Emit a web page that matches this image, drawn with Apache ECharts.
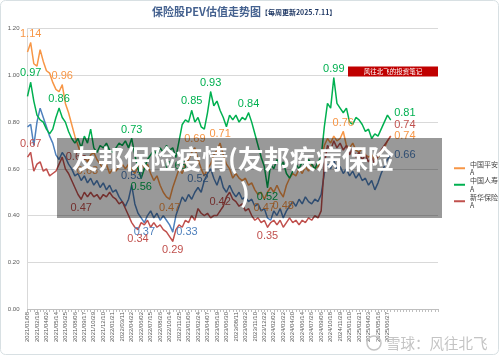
<!DOCTYPE html>
<html><head><meta charset="utf-8">
<script src="https://cdn.jsdelivr.net/npm/echarts@6.0.0/dist/echarts.min.js"></script>
<style>html,body{margin:0;padding:0;background:#fff}#c{width:500px;height:357px}</style>
</head><body><div id="c"></div>
<script>
const dates = [
'2021/01/08','2021/01/22','2021/02/05','2021/02/19','2021/03/05','2021/03/19','2021/04/02','2021/04/16','2021/04/30',
'2021/05/14','2021/05/28','2021/06/11','2021/06/25','2021/07/09','2021/07/23','2021/08/06','2021/08/20','2021/09/03',
'2021/09/17','2021/09/30','2021/10/15','2021/10/29','2021/11/12','2021/11/26','2021/12/10','2021/12/24','2022/01/07',
'2022/01/21','2022/02/11','2022/02/25','2022/03/11','2022/03/25','2022/04/08','2022/04/22','2022/05/06','2022/05/20',
'2022/06/02','2022/06/17','2022/07/01','2022/07/15','2022/07/29','2022/08/12','2022/08/26','2022/09/09','2022/09/23',
'2022/10/14','2022/10/28','2022/11/11','2022/11/25','2022/12/09','2022/12/23','2023/01/06','2023/01/20','2023/02/10',
'2023/02/24','2023/03/10','2023/03/24','2023/04/07','2023/04/21','2023/05/05','2023/05/19','2023/06/02','2023/06/16',
'2023/06/30','2023/07/14','2023/07/28','2023/08/11','2023/08/25','2023/09/08','2023/09/22','2023/10/13','2023/10/27',
'2023/11/10','2023/11/24','2023/12/08','2023/12/22','2024/01/05','2024/01/19','2024/02/02','2024/02/23','2024/03/08',
'2024/03/22','2024/04/03','2024/04/19','2024/04/30','2024/05/17','2024/05/31','2024/06/14','2024/06/28','2024/07/12',
'2024/07/26','2024/08/09','2024/08/23','2024/09/06','2024/09/20','2024/09/30','2024/10/18','2024/11/01','2024/11/15',
'2024/11/29','2024/12/13','2024/12/27','2025/01/10','2025/01/24','2025/02/14','2025/02/21','2025/03/07','2025/03/21',
'2025/04/03','2025/04/18','2025/04/30','2025/05/16','2025/05/30','2025/06/13','2025/06/27','2025/07/11',
'','','','','','','','','','','','','','',''
];

// 中国平安A (orange)
const pingan = [
1.10,1.14,1.05,1.04,1.11,1.06,1.02,1.01,0.97,0.94,
0.93,0.96,0.88,0.84,0.79,0.74,0.70,0.66,0.65,0.63,
0.66,0.67,0.64,0.62,0.60,0.62,0.58,0.60,0.59,0.61,
0.62,0.60,0.62,0.60,0.58,0.61,0.63,0.60,0.62,0.58,
0.55,0.57,0.53,0.50,0.48,0.47,0.52,0.56,0.60,0.58,
0.62,0.64,0.67,0.69,0.64,0.60,0.57,0.60,0.62,0.66,
0.68,0.71,0.66,0.62,0.60,0.56,0.58,0.56,0.55,0.56,
0.53,0.54,0.51,0.49,0.50,0.47,0.50,0.52,0.50,0.53,
0.50,0.48,0.53,0.56,0.58,0.57,0.60,0.58,0.61,0.59,
0.62,0.60,0.61,0.63,0.70,0.73,0.71,0.74,0.72,0.73,
0.76,0.70,0.69,0.71,0.68,0.67,0.69,0.66,0.65,0.66,
0.64,0.65,0.67,0.69,0.72,0.74
];
// 中国人寿A (green)
const renshou = [
0.91,0.97,0.89,0.83,0.81,0.80,0.77,0.75,0.77,0.82,
0.86,0.82,0.80,0.76,0.73,0.71,0.73,0.69,0.74,0.71,
0.77,0.69,0.67,0.70,0.69,0.71,0.68,0.67,0.69,0.71,
0.70,0.72,0.69,0.73,0.66,0.60,0.56,0.60,0.64,0.66,
0.68,0.66,0.69,0.67,0.70,0.68,0.69,0.65,0.72,0.79,
0.81,0.80,0.85,0.80,0.82,0.78,0.77,0.84,0.93,0.87,
0.89,0.85,0.82,0.78,0.83,0.81,0.83,0.80,0.82,0.81,
0.84,0.80,0.75,0.70,0.65,0.61,0.52,0.62,0.60,0.64,
0.61,0.63,0.58,0.56,0.59,0.62,0.60,0.63,0.61,0.64,
0.62,0.60,0.63,0.65,0.78,0.88,0.86,0.99,0.88,0.86,
0.84,0.86,0.80,0.79,0.82,0.81,0.79,0.76,0.77,0.73,
0.75,0.74,0.77,0.80,0.83,0.81
];
// 中国太保A (blue)
const taibao = [
0.78,0.79,0.70,0.80,0.86,0.82,0.78,0.74,0.71,0.66,
0.64,0.67,0.65,0.62,0.60,0.57,0.58,0.55,0.57,0.54,
0.56,0.53,0.55,0.52,0.54,0.51,0.53,0.50,0.51,0.48,
0.46,0.44,0.47,0.53,0.45,0.41,0.39,0.37,0.40,0.42,
0.39,0.41,0.38,0.40,0.38,0.36,0.33,0.40,0.44,0.48,
0.46,0.49,0.47,0.50,0.52,0.50,0.55,0.58,0.60,0.56,
0.53,0.57,0.52,0.50,0.53,0.50,0.48,0.50,0.47,0.48,
0.46,0.47,0.44,0.45,0.42,0.43,0.39,0.38,0.42,0.40,
0.43,0.39,0.42,0.44,0.46,0.44,0.47,0.45,0.48,0.46,
0.45,0.47,0.46,0.49,0.58,0.62,0.60,0.64,0.59,0.61,
0.58,0.60,0.57,0.59,0.56,0.58,0.55,0.56,0.53,0.55,
0.51,0.54,0.58,0.61,0.64,0.66
];
// 新华保险A (red)
const xinhua = [
0.65,0.67,0.59,0.62,0.63,0.59,0.60,0.57,0.58,0.59,
0.62,0.65,0.60,0.58,0.55,0.52,0.49,0.47,0.50,0.48,
0.50,0.48,0.49,0.47,0.49,0.48,0.50,0.48,0.47,0.45,
0.46,0.43,0.40,0.37,0.35,0.34,0.37,0.36,0.38,0.35,
0.37,0.35,0.36,0.34,0.33,0.31,0.29,0.34,0.36,0.35,
0.38,0.37,0.40,0.38,0.43,0.41,0.40,0.41,0.39,0.40,
0.40,0.42,0.44,0.48,0.50,0.47,0.46,0.44,0.45,0.42,
0.43,0.40,0.38,0.39,0.37,0.38,0.35,0.37,0.38,0.36,
0.38,0.35,0.37,0.39,0.37,0.38,0.36,0.38,0.37,0.39,
0.38,0.40,0.39,0.42,0.62,0.70,0.68,0.72,0.69,0.71,
0.68,0.70,0.66,0.69,0.65,0.67,0.64,0.66,0.63,0.65,
0.62,0.66,0.68,0.70,0.72,0.74
];

// labelled points: [index, placement, vertical offset]
const pinganMarks = [[1,'top'],[11,'top'],[19,'bottom'],[45,'bottom'],[53,'top'],[61,'top'],[75,'bottom'],[81,'bottom'],[100,'top'],[115,'right']];
const renshouMarks = [[1,'top'],[10,'top'],[33,'top'],[36,'bottom'],[47,'bottom'],[52,'top'],[58,'top'],[70,'top'],[76,'bottom'],[97,'top'],[115,'right',-7]];
const taibaoMarks = [[33,'top'],[37,'bottom'],[46,'right'],[54,'top'],[115,'right']];
const xinhuaMarks = [[1,'top'],[11,'right'],[17,'bottom'],[35,'bottom'],[46,'bottom'],[61,'top'],[76,'bottom'],[115,'right',-11]];

const legendNames = ['中国平安A','中国人寿A','新华保险A'];

function build(values, marks) {
  const m = {};
  marks.forEach(function (k) { m[k[0]] = [k[1], k[2] || 0]; });
  return values.map(function (v, i) {
    if (!m[i]) return v;
    return {value: v, symbol: 'circle', symbolSize: 1,
      label: {show: true, position: m[i][0], offset: [0, m[i][1]]}};
  });
}
function mkSeries(name, values, marks, color) {
  return {
    name: name, type: 'line', data: build(values, marks),
    symbol: 'none', showSymbol: true, showAllSymbol: true,
    lineStyle: {width: 1.5, color: color}, itemStyle: {color: color},
    label: {show: false, color: color, fontSize: 11, fontFamily: 'Liberation Sans', distance: 3,
      formatter: function (p) { return Number(p.value).toFixed(2); }},
    emphasis: {disabled: true}, animation: false
  };
}

const chart = echarts.init(document.getElementById('c'), null, {renderer: 'canvas'});
chart.setOption({
  backgroundColor: '#ffffff',
  animation: false,
  title: {
    text: '{a|保险股PEV估值走势图}{b|【每周更新2025.7.11】}',
    left: 152, top: 6, padding: 0,
    textStyle: {rich: {
      a: {fontSize: 11, color: '#44618F', fontFamily: 'Noto Sans CJK SC'},
      b: {fontSize: 7, fontWeight: 'bold', color: '#1F3864', fontFamily: 'Noto Sans CJK SC', padding: [2, 0, 0, 0]}
    }}
  },
  legend: {
    data: legendNames, orient: 'vertical', left: 454, top: 155.5, padding: 0,
    itemWidth: 11, itemHeight: 2, itemGap: -9, icon: 'rect',
    formatter: function (n) { return n.slice(0, 4) + '\n' + n.slice(4); },
    textStyle: {fontSize: 7, color: '#404040', lineHeight: 8.5, padding: [8.5, 0, 0, 0], fontFamily: 'Noto Sans CJK SC'}
  },
  grid: {left: 27.5, right: 62, top: 28.7, bottom: 48, containLabel: false, outerBoundsMode: 'none'},
  xAxis: {
    type: 'category', data: dates, boundaryGap: false,
    axisLine: {lineStyle: {color: '#BFBFBF', width: 1}},
    axisTick: {show: true, interval: 0, length: 3, lineStyle: {color: '#BFBFBF'}},
    axisLabel: {interval: 2, rotate: 90, fontSize: 6, color: '#595959', margin: 3, fontFamily: 'Liberation Sans'},
    splitLine: {show: false}
  },
  yAxis: {
    type: 'value', min: 0, max: 1.2, interval: 0.2,
    axisLine: {show: true, lineStyle: {color: '#D9D9D9'}},
    axisTick: {show: false},
    axisLabel: {fontSize: 6, color: '#595959', margin: 8, fontFamily: 'Liberation Sans',
      formatter: function (v) { return v.toFixed(2); }},
    splitLine: {lineStyle: {color: '#D9D9D9', width: 1}}
  },
  series: [
    mkSeries('中国太保A', taibao, taibaoMarks, '#4F81BD'),
    mkSeries('中国平安A', pingan, pinganMarks, '#F79646'),
    mkSeries('中国人寿A', renshou, renshouMarks, '#00B050'),
    mkSeries('新华保险A', xinhua, xinhuaMarks, '#C0504D')
  ],
  graphic: {elements: [
    {type: 'rect', z: 50, shape: {x: 0.5, y: 0.5, width: 498, height: 354, r: 5},
      style: {fill: 'none', stroke: '#D8E0E3', lineWidth: 1}, silent: true},
    {type: 'rect', z: 50, shape: {x: 348, y: 66.5, width: 90, height: 10},
      style: {fill: '#C00000'}},
    {type: 'text', z: 51, x: 393, y: 71.5,
      style: {text: '风往北飞的投资笔记', fill: '#ffffff', fontSize: 6.5, fontFamily: 'Noto Sans CJK SC', align: 'center', verticalAlign: 'middle'}},
    {type: 'rect', z: 100, shape: {x: 57, y: 138, width: 385, height: 80},
      style: {fill: 'rgba(0,0,0,0.4)'}},
    {type: 'text', z: 101, x: 72, y: 159,
      style: {text: '友邦保险疫情(友邦疾病保险', fill: '#ffffff', fontSize: 26, fontWeight: 'bold', fontFamily: 'Noto Sans CJK SC', align: 'left', verticalAlign: 'middle'}},
    {type: 'text', z: 101, x: 240, y: 193,
      style: {text: ')', fill: '#ffffff', fontSize: 26, fontWeight: 'bold', fontFamily: 'Noto Sans CJK SC', align: 'left', verticalAlign: 'middle'}},
    {type: 'circle', z: 50, shape: {cx: 374, cy: 343, r: 7},
      style: {fill: 'none', stroke: '#C4C4C4', lineWidth: 1.5}},
    {type: 'text', z: 50, x: 386, y: 343,
      style: {text: '雪球：风往北飞', fill: '#C4C4C4', fontSize: 14.5, fontFamily: 'Noto Sans CJK SC', align: 'left', verticalAlign: 'middle'}}
  ]}
});
</script>
</body></html>
